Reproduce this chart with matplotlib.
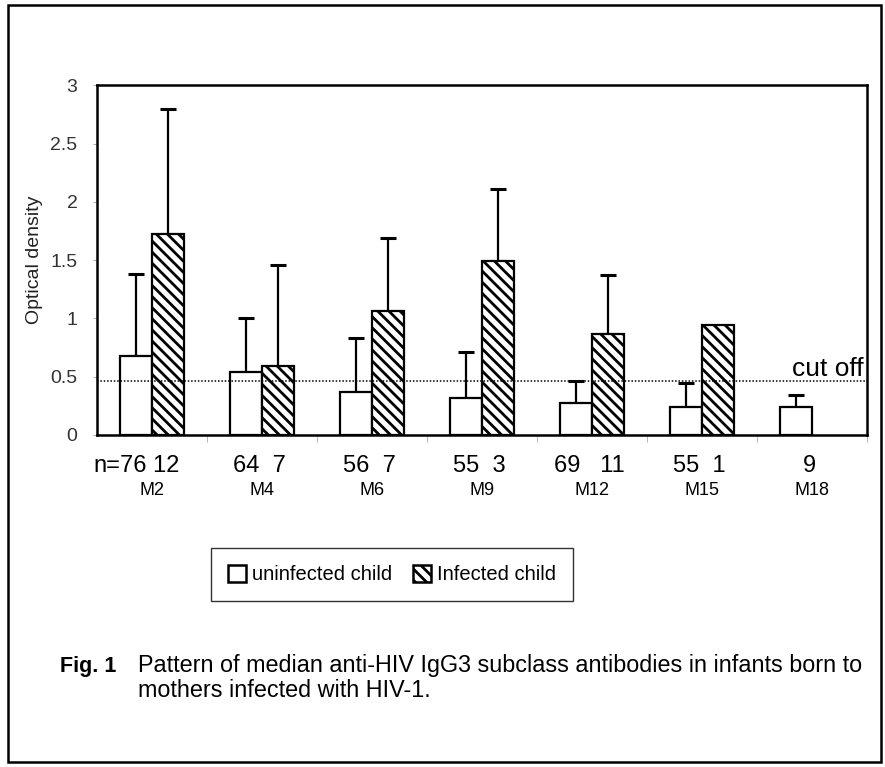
import numpy as np
import matplotlib
matplotlib.use("Agg")
from matplotlib import pyplot as plt
from matplotlib.patches import Rectangle, Patch


months = ["M2", "M4", "M6", "M9", "M12", "M15", "M18"]
n_labels = ["76 12", "64  7", "56  7", "55  3", "69   11", "55  1", "9"]

uninfected = [0.68, 0.54, 0.37, 0.32, 0.27, 0.24, 0.24]
uninfected_top = [1.38, 1.00, 0.83, 0.71, 0.46, 0.45, 0.34]

# M18 has no infected bar, M15 infected has no error bar
infected = [1.72, 0.59, 1.06, 1.49, 0.87, 0.94, np.nan]
infected_top = [2.80, 1.46, 1.69, 2.11, 1.37, np.nan, np.nan]

cut_off = 0.46

plt.rcParams["font.family"] = ["Liberation Sans", "DejaVu Sans"]
plt.rcParams["hatch.linewidth"] = 2.0


def draw_bars(ax, x, vals, tops, hatch):
	vals = np.array(vals, dtype=float)
	tops = np.array(tops, dtype=float)
	ok = ~np.isnan(vals)
	ax.bar(x[ok], vals[ok], width=0.29, color="white", edgecolor="black",
		linewidth=1.6, hatch=hatch, zorder=3)
	has_err = ok & ~np.isnan(tops)
	ax.errorbar(x[has_err], vals[has_err],
		yerr=[np.zeros(has_err.sum()), tops[has_err] - vals[has_err]],
		fmt="none", ecolor="black", elinewidth=1.6, capsize=6, capthick=2.2, zorder=2)


def main():
	fig = plt.figure(figsize=(8.85, 7.67), dpi=100)
	ax = fig.add_axes([0.1096, 0.4329, 0.870, 0.456])

	x = np.arange(len(months))
	w = 0.29
	draw_bars(ax, x - w / 2, uninfected, uninfected_top, None)
	draw_bars(ax, x + w / 2, infected, infected_top, "\\\\\\")

	ax.axhline(cut_off, color="black", linestyle=(0, (1, 1.2)), linewidth=1.1, zorder=4)
	ax.text(6.47, 0.51, "cut off", ha="right", va="baseline", fontsize=19)

	ax.set_xlim(-0.5, 6.5)
	ax.set_ylim(0, 3)
	ax.set_yticks([0, 0.5, 1, 1.5, 2, 2.5, 3])
	ax.set_yticklabels(["0", "0.5", "1", "1.5", "2", "2.5", "3"], fontsize=14, color="#333333")
	ax.tick_params(axis="y", direction="out", length=3, width=0.6, color="#999999", pad=11)
	ax.set_xticks(x + 0.5)
	ax.set_xticklabels([])
	ax.tick_params(axis="x", direction="out", length=5, width=0.6, color="#aaaaaa")
	ax.set_ylabel("Optical density", fontsize=14, labelpad=5, color="#222222")
	for s in ax.spines.values():
		s.set_linewidth(1.8)

	tr = ax.get_xaxis_transform()
	for i, (nl, m) in enumerate(zip(n_labels, months)):
		t = ax.text(i - 0.02, -0.088, nl, transform=tr, ha="center", va="center", fontsize=17)
		if i == 0:
			ax.annotate("n=", xy=(0, 0.5), xycoords=t, ha="right", va="center", fontsize=17)
		ax.text(i, -0.158, m, transform=tr, ha="center", va="center", fontsize=13)

	handles = [Patch(facecolor="white", edgecolor="black", linewidth=1.8, label="uninfected child"),
		Patch(facecolor="white", edgecolor="black", linewidth=1.8, hatch="\\\\\\", label="Infected child")]
	leg = fig.legend(handles=handles, loc="center", bbox_to_anchor=(0.443, 0.251), ncol=2,
		fontsize=14.5, frameon=True, fancybox=False, edgecolor="black", handlelength=0.9,
		handleheight=0.9, handletextpad=0.3, columnspacing=1.0, borderpad=0.85)
	leg.get_frame().set_linewidth(1.0)

	fig.text(0.068, 0.124, "Fig. 1", fontsize=15.5, fontweight="bold", va="baseline")
	fig.text(0.156, 0.124, "Pattern of median anti-HIV IgG3 subclass antibodies in infants born to",
		fontsize=16.8, va="baseline")
	fig.text(0.156, 0.091, "mothers infected with HIV-1.", fontsize=16.8, va="baseline")

	fig.patches.append(Rectangle((0.009, 0.007), 0.986, 0.986, transform=fig.transFigure,
		fill=False, edgecolor="black", linewidth=1.8))

	fig.savefig("out.png", dpi=100)


if __name__ == "__main__":
	main()
